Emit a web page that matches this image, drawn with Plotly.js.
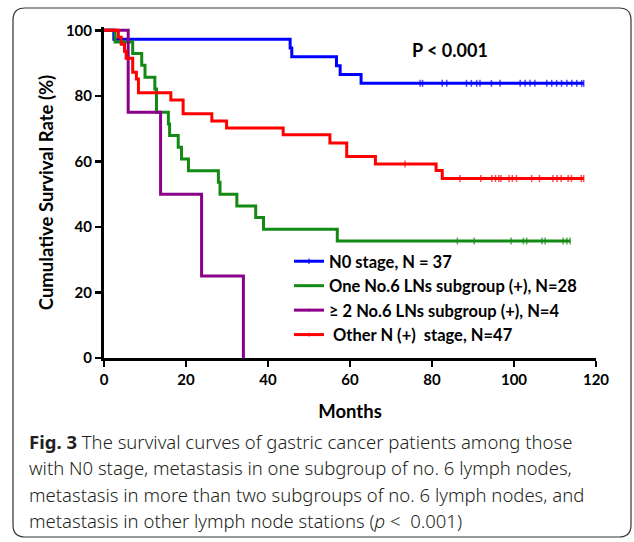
<!DOCTYPE html>
<html>
<head>
<meta charset="utf-8">
<script src="https://cdn.plot.ly/plotly-3.0.1.min.js"></script>
<style>
html,body{margin:0;padding:0;background:#fff;}
#chart{width:634px;height:542px;}
</style>
</head>
<body>
<div id="chart"></div>
<script>
// ---------- data ----------
var seriesNames = ["N0 stage, N = 37", "One No.6 LNs subgroup (+), N=28", "\u2265 2 No.6 LNs subgroup (+), N=4", " Other N (+)  stage, N=47"];

var n0Times = [0, 2.4, 45.4, 45.8, 56.7, 57.6, 62.7];
var n0Surv = [100, 97.3, 94.6, 91.9, 89.2, 86.5, 83.8];
var n0Censor = [77.1, 77.7, 82.5, 83.6, 88.4, 89.6, 90.9, 91.7, 94.5, 96.6, 101.5, 102.7, 103.9, 105.1, 108, 109.2, 110.4, 111.6, 112.9, 114.1, 115.3, 116.5, 117];

var oneTimes = [0, 2.7, 7.0, 9.2, 10.0, 12.4, 12.8, 15.7, 16.0, 18.1, 18.9, 20.6, 27.9, 28.3, 32.4, 37.0, 38.9, 56.9];
var oneSurv = [100, 96.4, 92.9, 89.3, 85.7, 82.1, 75.0, 71.4, 67.9, 64.3, 60.7, 57.1, 53.6, 50.0, 46.4, 42.9, 39.3, 35.7];
var oneCensor = [86.2, 90.3, 99.3, 102.3, 103.1, 106.8, 107.6, 112, 112.9, 113.7];

var twoTimes = [0, 5.9, 13.8, 23.8, 34];
var twoSurv = [100, 75, 50, 25, 0];
var twoCensor = [];

var otherTimes = [0, 3.5, 4.2, 5.0, 5.4, 7.0, 7.9, 8.4, 16.3, 19.3, 26.3, 29.9, 43.7, 55.1, 59.2, 66.2, 81.0, 82.5];
var otherSurv = [100, 97.9, 95.7, 93.6, 91.5, 87.2, 85.1, 80.9, 78.7, 74.5, 72.3, 70.2, 68.1, 65.6, 61.5, 59.2, 57.2, 54.8];
var otherCensor = [73.4, 86.8, 91.9, 94.6, 95.5, 96.3, 96.8, 98.8, 99.6, 100.6, 104.3, 106.2, 109.5, 110.5, 111.5, 113.2, 114, 116.4, 117];

var xTicks = [0, 20, 40, 60, 80, 100, 120];
var yTicks = [0, 20, 40, 60, 80, 100];

var captionLines = [
  "<b>Fig. 3</b> The survival curves of gastric cancer patients among those",
  "with N0 stage, metastasis in one subgroup of no. 6 lymph nodes,",
  "metastasis in more than two subgroups of no. 6 lymph nodes, and",
  "metastasis in other lymph node stations (<i>p</i> <  0.001)"
];

// ---------- helpers ----------
function buildKM(times, surv, censor) {
  var pts = [];
  for (var i = 0; i < times.length; i++) pts.push({t: times[i], s: surv[i], c: false});
  for (var j = 0; j < censor.length; j++) {
    var v = surv[0];
    for (var k = 0; k < times.length; k++) if (times[k] <= censor[j]) v = surv[k];
    pts.push({t: censor[j], s: v, c: true});
  }
  pts.sort(function(a, b){ return a.t - b.t; });
  return {
    x: pts.map(function(p){ return p.t; }),
    y: pts.map(function(p){ return p.s; }),
    size: pts.map(function(p){ return p.c ? 5 : 0; })
  };
}

var colors = ["#0000ff", "#138a13", "#8b008b", "#ff0000"];
var sets = [
  [n0Times, n0Surv, n0Censor],
  [oneTimes, oneSurv, oneCensor],
  [twoTimes, twoSurv, twoCensor],
  [otherTimes, otherSurv, otherCensor]
];

var traces = sets.map(function(s, i){
  var km = buildKM(s[0], s[1], s[2]);
  return {
    type: "scatter",
    mode: "lines+markers",
    name: seriesNames[i],
    x: km.x, y: km.y,
    line: {shape: "hv", color: colors[i], width: 3},
    marker: {symbol: "line-ns", size: km.size, color: colors[i], line: {color: colors[i], width: 1.5}},
    cliponaxis: false,
    hoverinfo: "x+y"
  };
});

// pixel -> paper conversion (plot area: x 104..596, y 27..358)
var L = 104, R = 596, T = 27, B = 358;
function px(x){ return (x - L) / (R - L); }
function py(y){ return (B - y) / (B - T); }

// rounded frame
var fx0 = 13, fy0 = 8, fx1 = 631, fy1 = 537, rr = 12;
var framePath = "M" + px(fx0 + rr) + "," + py(fy0) +
  " L" + px(fx1 - rr) + "," + py(fy0) +
  " Q" + px(fx1) + "," + py(fy0) + " " + px(fx1) + "," + py(fy0 + rr) +
  " L" + px(fx1) + "," + py(fy1 - rr) +
  " Q" + px(fx1) + "," + py(fy1) + " " + px(fx1 - rr) + "," + py(fy1) +
  " L" + px(fx0 + rr) + "," + py(fy1) +
  " Q" + px(fx0) + "," + py(fy1) + " " + px(fx0) + "," + py(fy1 - rr) +
  " L" + px(fx0) + "," + py(fy0 + rr) +
  " Q" + px(fx0) + "," + py(fy0) + " " + px(fx0 + rr) + "," + py(fy0) + " Z";

var FONT = "Lato, 'Open Sans', sans-serif";

var annotations = [{
  text: "<b>P < 0.001</b>", xref: "paper", yref: "paper",
  x: px(450), y: py(50), xanchor: "center", yanchor: "middle",
  showarrow: false, font: {family: FONT, size: 18, color: "#000"}
}];
var capY = [441, 467, 494, 520];
captionLines.forEach(function(t, i){
  annotations.push({
    text: t, xref: "paper", yref: "paper", x: px(27), y: py(capY[i]),
    xanchor: "left", yanchor: "middle", showarrow: false,
    font: {family: "'Noto Sans', 'Open Sans', sans-serif", size: 18.5, color: "#231f20", weight: 300}
  });
});

var layout = {
  width: 634, height: 542,
  margin: {l: L, r: 634 - R, t: T, b: 542 - B, pad: 0},
  paper_bgcolor: "#fff", plot_bgcolor: "#fff",
  showlegend: true,
  legend: {
    x: px(289), y: py(244), xanchor: "left", yanchor: "top",
    bgcolor: "rgba(0,0,0,0)", font: {family: FONT, size: 16.5, color: "#000", weight: "bold"},
    tracegroupgap: 0, itemwidth: 30
  },
  xaxis: {
    range: [0, 120], tickvals: xTicks, ticktext: xTicks.map(String),
    showline: true, linecolor: "#000", linewidth: 3,
    ticks: "outside", ticklen: 6, tickwidth: 2.5, tickcolor: "#000",
    showgrid: false, zeroline: false,
    tickfont: {family: FONT, size: 15, color: "#000", weight: "bold"},
    title: {text: "<b>Months</b>", font: {family: FONT, size: 18.5, color: "#000"}, standoff: 19},
    automargin: false
  },
  yaxis: {
    range: [0, 101], tickvals: yTicks, ticktext: yTicks.map(String),
    showline: true, linecolor: "#000", linewidth: 3,
    ticks: "outside", ticklen: 6, tickwidth: 2.5, tickcolor: "#000",
    showgrid: false, zeroline: false,
    tickfont: {family: FONT, size: 15, color: "#000", weight: "bold"},
    title: {text: "<b>Cumulative Survival Rate (%)</b>", font: {family: FONT, size: 18.5, color: "#000"}, standoff: 8},
    automargin: false
  },
  shapes: [{type: "path", xref: "paper", yref: "paper", path: framePath, line: {color: "#333", width: 1.2}, layer: "below"}],
  annotations: annotations
};

Plotly.newPlot("chart", traces, layout, {displayModeBar: false, staticPlot: true});
</script>
</body>
</html>
